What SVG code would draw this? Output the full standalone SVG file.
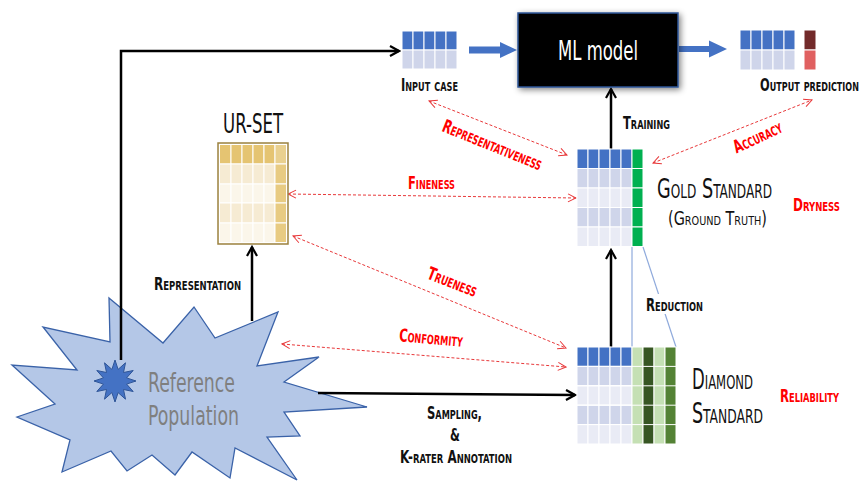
<svg xmlns="http://www.w3.org/2000/svg" width="863" height="481" viewBox="0 0 863 481">
<defs>
<style>
text{font-family:"DejaVu Sans Condensed","DejaVu Sans",sans-serif;}
.sc{font-variant:small-caps;font-weight:bold;font-size:18px;fill:#111;}
.red{fill:#FF0000;}
.cell rect{stroke:#fff;stroke-width:1;}
.bh{fill:#4472C4;}
.b1{fill:#CFD5EA;}
.b2{fill:#E9EBF5;}
.blk{stroke:#000;stroke-width:2.5;fill:none;}
.dash{stroke:#E8383A;stroke-width:1;stroke-dasharray:3,2;fill:none;marker-start:url(#ro);marker-end:url(#ro);}
.red-line{stroke:#8FAADC;stroke-width:1.2;fill:none;}
</style>
<marker id="ba" viewBox="0 0 12 12" refX="10" refY="6" markerWidth="12" markerHeight="12" markerUnits="userSpaceOnUse" orient="auto">
<path d="M1,1 L10,6 L1,11" fill="none" stroke="#000" stroke-width="2.2"/>
</marker>
<marker id="ro" viewBox="0 0 10 10" refX="9" refY="5" markerWidth="10" markerHeight="10" markerUnits="userSpaceOnUse" orient="auto-start-reverse">
<path d="M1,1 L9,5 L1,9" fill="none" stroke="#E8383A" stroke-width="1"/>
</marker>
<filter id="sh" x="-20%" y="-30%" width="140%" height="160%">
<feGaussianBlur in="SourceAlpha" stdDeviation="3"/>
<feOffset dx="2" dy="2" result="b"/>
<feComponentTransfer><feFuncA type="linear" slope="0.5"/></feComponentTransfer>
<feMerge><feMergeNode/><feMergeNode in="SourceGraphic"/></feMerge>
</filter>
</defs>
<rect width="863" height="481" fill="#fff"/>

<g id="population">
<polygon points="109,298 163,343 194,307 215,338 278,312 257,366 319,357 284,382 367,407 284,412 300,436 267,437 297,480 235,448 230,478 192,452 175,475 152,455 127,471 111,451 62,472 70,440 17,417 55,404 12,365 77,370 43,327 110,342" fill="#B4C7E7" stroke="#3A62A8" stroke-width="1.3"/>
<text transform="translate(148,392) scale(0.7,1)" font-size="26" fill="#7F7F7F" textLength="124.3" lengthAdjust="spacingAndGlyphs">Reference</text>
<text transform="translate(148,425) scale(0.7,1)" font-size="26" fill="#7F7F7F" textLength="130" lengthAdjust="spacingAndGlyphs">Population</text>
</g>

<g id="connectors">
<path class="blk" d="M121,360 V51 H399" marker-end="url(#ba)"/>
<path class="blk" d="M252,321 V247" marker-end="url(#ba)"/>
<path class="blk" d="M611,347 V250" marker-end="url(#ba)"/>
<path class="blk" d="M611,149 V89" marker-end="url(#ba)"/>
<path class="blk" d="M318,393 L575,395" marker-end="url(#ba)"/>
<polygon points="469,46.5 500,46.5 500,42 517,50 500,58 500,53.5 469,53.5" fill="#4472C4"/>
<polygon points="679,46 709,46 709,40.5 727,49 709,57.5 709,52 679,52" fill="#4472C4"/>
<path class="red-line" d="M632,247 V347"/>
<path class="red-line" d="M643,247 L676,347"/>
<path class="dash" d="M429,101 L567,155"/>
<path class="dash" d="M653,163 L812,100"/>
<path class="dash" d="M288,194 L576,198"/>
<path class="dash" d="M293,236 L566,348"/>
<path class="dash" d="M282,344 L566,367"/>
</g>

<g id="small-star">
<polygon points="115,360 118.1,369.4 125.5,362.8 123.5,372.5 133.2,370.5 126.6,377.9 136,381 126.6,384.1 133.2,391.5 123.5,389.5 125.5,399.2 118.1,392.6 115,402 111.9,392.6 104.5,399.2 106.5,389.5 96.8,391.5 103.4,384.1 94,381 103.4,377.9 96.8,370.5 106.5,372.5 104.5,362.8 111.9,369.4" fill="#4472C4" stroke="#2F5597" stroke-width="1"/>
</g>

<g id="input-case">
<g class="cell">
<rect class="bh" x="402" y="31" width="11" height="19"/><rect class="bh" x="413" y="31" width="11" height="19"/><rect class="bh" x="424" y="31" width="11" height="19"/><rect class="bh" x="435" y="31" width="11" height="19"/><rect class="bh" x="446" y="31" width="11" height="19"/>
<rect class="b1" x="402" y="50" width="11" height="19"/><rect class="b1" x="413" y="50" width="11" height="19"/><rect class="b1" x="424" y="50" width="11" height="19"/><rect class="b1" x="435" y="50" width="11" height="19"/><rect class="b1" x="446" y="50" width="11" height="19"/>
</g>
<text class="sc" transform="translate(401,91) scale(0.7,1)" textLength="81.4" lengthAdjust="spacingAndGlyphs">Input case</text>
</g>

<g id="ml-model">
<rect x="518" y="13" width="160" height="74" fill="#000" stroke="#2F5597" stroke-width="1.5" filter="url(#sh)"/>
<text transform="translate(598,60) scale(0.7,1)" font-size="27" fill="#fff" text-anchor="middle" textLength="114.3" lengthAdjust="spacingAndGlyphs">ML model</text>
</g>

<g id="output-prediction">
<g class="cell">
<rect class="bh" x="740" y="30" width="11" height="20"/><rect class="bh" x="751" y="30" width="11" height="20"/><rect class="bh" x="762" y="30" width="11" height="20"/><rect class="bh" x="773" y="30" width="11" height="20"/><rect class="bh" x="784" y="30" width="11" height="20"/>
<rect class="b1" x="740" y="50" width="11" height="20"/><rect class="b1" x="751" y="50" width="11" height="20"/><rect class="b1" x="762" y="50" width="11" height="20"/><rect class="b1" x="773" y="50" width="11" height="20"/><rect class="b1" x="784" y="50" width="11" height="20"/>
<rect x="804" y="30" width="12" height="20" fill="#722A2A"/>
<rect x="804" y="50" width="12" height="20" fill="#E06060"/>
</g>
<text class="sc" transform="translate(760,91) scale(0.7,1)" textLength="141.4" lengthAdjust="spacingAndGlyphs">Output prediction</text>
</g>

<g id="ur-set">
<text transform="translate(253,133) scale(0.7,1)" font-size="27" fill="#111" text-anchor="middle" textLength="85.7" lengthAdjust="spacingAndGlyphs">UR-SET</text>
<rect x="218" y="143" width="70" height="101" fill="#FBF6EA" stroke="#9C8240" stroke-width="1.5"/>
<g class="cell">
<rect x="219.5" y="144.5" width="11.5" height="19.5" fill="#E5C472"/><rect x="231" y="144.5" width="11" height="19.5" fill="#E5C472"/><rect x="242" y="144.5" width="11" height="19.5" fill="#E5C472"/><rect x="253" y="144.5" width="11" height="19.5" fill="#E5C472"/><rect x="264" y="144.5" width="11" height="19.5" fill="#E5C472"/><rect x="275" y="144.5" width="11.5" height="19.5" fill="#E9D08F"/>
<rect x="219.5" y="164" width="11.5" height="20" fill="#F6EBD3"/><rect x="231" y="164" width="11" height="20" fill="#F6EBD3"/><rect x="242" y="164" width="11" height="20" fill="#F6EBD3"/><rect x="253" y="164" width="11" height="20" fill="#F6EBD3"/><rect x="264" y="164" width="11" height="20" fill="#F6EBD3"/><rect x="275" y="164" width="11.5" height="20" fill="#E8CB82"/>
<rect x="219.5" y="184" width="11.5" height="19" fill="#FBF6EA"/><rect x="231" y="184" width="11" height="19" fill="#FBF6EA"/><rect x="242" y="184" width="11" height="19" fill="#FBF6EA"/><rect x="253" y="184" width="11" height="19" fill="#FBF6EA"/><rect x="264" y="184" width="11" height="19" fill="#FBF6EA"/><rect x="275" y="184" width="11.5" height="19" fill="#E8CB82"/>
<rect x="219.5" y="203" width="11.5" height="20" fill="#F6EBD3"/><rect x="231" y="203" width="11" height="20" fill="#F6EBD3"/><rect x="242" y="203" width="11" height="20" fill="#F6EBD3"/><rect x="253" y="203" width="11" height="20" fill="#F6EBD3"/><rect x="264" y="203" width="11" height="20" fill="#F6EBD3"/><rect x="275" y="203" width="11.5" height="20" fill="#E8CB82"/>
<rect x="219.5" y="223" width="11.5" height="19.5" fill="#FBF6EA"/><rect x="231" y="223" width="11" height="19.5" fill="#FBF6EA"/><rect x="242" y="223" width="11" height="19.5" fill="#FBF6EA"/><rect x="253" y="223" width="11" height="19.5" fill="#FBF6EA"/><rect x="264" y="223" width="11" height="19.5" fill="#FBF6EA"/><rect x="275" y="223" width="11.5" height="19.5" fill="#E8CB82"/>
</g>
</g>

<g id="gold-standard">
<g class="cell">
<rect class="bh" x="577" y="149" width="11" height="19.5"/><rect class="bh" x="588" y="149" width="11" height="19.5"/><rect class="bh" x="599" y="149" width="11" height="19.5"/><rect class="bh" x="610" y="149" width="11" height="19.5"/><rect class="bh" x="621" y="149" width="11" height="19.5"/>
<rect class="b1" x="577" y="168.5" width="11" height="19.5"/><rect class="b1" x="588" y="168.5" width="11" height="19.5"/><rect class="b1" x="599" y="168.5" width="11" height="19.5"/><rect class="b1" x="610" y="168.5" width="11" height="19.5"/><rect class="b1" x="621" y="168.5" width="11" height="19.5"/>
<rect class="b2" x="577" y="188" width="11" height="19.5"/><rect class="b2" x="588" y="188" width="11" height="19.5"/><rect class="b2" x="599" y="188" width="11" height="19.5"/><rect class="b2" x="610" y="188" width="11" height="19.5"/><rect class="b2" x="621" y="188" width="11" height="19.5"/>
<rect class="b1" x="577" y="207.5" width="11" height="19.5"/><rect class="b1" x="588" y="207.5" width="11" height="19.5"/><rect class="b1" x="599" y="207.5" width="11" height="19.5"/><rect class="b1" x="610" y="207.5" width="11" height="19.5"/><rect class="b1" x="621" y="207.5" width="11" height="19.5"/>
<rect class="b2" x="577" y="227" width="11" height="19.5"/><rect class="b2" x="588" y="227" width="11" height="19.5"/><rect class="b2" x="599" y="227" width="11" height="19.5"/><rect class="b2" x="610" y="227" width="11" height="19.5"/><rect class="b2" x="621" y="227" width="11" height="19.5"/>
<rect x="632" y="149" width="11" height="19.5" fill="#00B050"/><rect x="632" y="168.5" width="11" height="19.5" fill="#00B050"/><rect x="632" y="188" width="11" height="19.5" fill="#00B050"/><rect x="632" y="207.5" width="11" height="19.5" fill="#00B050"/><rect x="632" y="227" width="11" height="19.5" fill="#00B050"/>
</g>
<text transform="translate(657,198) scale(0.7,1)" font-size="27" fill="#111" style="font-variant:small-caps" textLength="164.3" lengthAdjust="spacingAndGlyphs">Gold Standard</text>
<text transform="translate(668,225) scale(0.7,1)" font-size="19" fill="#111" style="font-variant:small-caps" textLength="141.4" lengthAdjust="spacingAndGlyphs">(Ground Truth)</text>
</g>

<g id="diamond-standard">
<g class="cell">
<rect class="bh" x="577" y="347" width="11" height="19.4"/><rect class="bh" x="588" y="347" width="11" height="19.4"/><rect class="bh" x="599" y="347" width="11" height="19.4"/><rect class="bh" x="610" y="347" width="11" height="19.4"/><rect class="bh" x="621" y="347" width="11" height="19.4"/>
<rect class="b1" x="577" y="366.4" width="11" height="19.4"/><rect class="b1" x="588" y="366.4" width="11" height="19.4"/><rect class="b1" x="599" y="366.4" width="11" height="19.4"/><rect class="b1" x="610" y="366.4" width="11" height="19.4"/><rect class="b1" x="621" y="366.4" width="11" height="19.4"/>
<rect class="b2" x="577" y="385.8" width="11" height="19.4"/><rect class="b2" x="588" y="385.8" width="11" height="19.4"/><rect class="b2" x="599" y="385.8" width="11" height="19.4"/><rect class="b2" x="610" y="385.8" width="11" height="19.4"/><rect class="b2" x="621" y="385.8" width="11" height="19.4"/>
<rect class="b1" x="577" y="405.2" width="11" height="19.4"/><rect class="b1" x="588" y="405.2" width="11" height="19.4"/><rect class="b1" x="599" y="405.2" width="11" height="19.4"/><rect class="b1" x="610" y="405.2" width="11" height="19.4"/><rect class="b1" x="621" y="405.2" width="11" height="19.4"/>
<rect class="b2" x="577" y="424.6" width="11" height="19.4"/><rect class="b2" x="588" y="424.6" width="11" height="19.4"/><rect class="b2" x="599" y="424.6" width="11" height="19.4"/><rect class="b2" x="610" y="424.6" width="11" height="19.4"/><rect class="b2" x="621" y="424.6" width="11" height="19.4"/>
<rect x="632" y="347" width="11" height="97" fill="#C5E0B4"/><rect x="643" y="347" width="11" height="97" fill="#375623"/><rect x="654" y="347" width="11" height="97" fill="#C5E0B4"/><rect x="665" y="347" width="11" height="97" fill="#548235"/>
</g>
<path d="M577,366.4 H676 M577,385.8 H676 M577,405.2 H676 M577,424.6 H676" stroke="#fff" stroke-width="1"/>
<text transform="translate(692,389) scale(0.7,1)" font-size="28" fill="#111" style="font-variant:small-caps" textLength="87.1" lengthAdjust="spacingAndGlyphs">Diamond</text>
<text transform="translate(692,423) scale(0.7,1)" font-size="28" fill="#111" style="font-variant:small-caps" textLength="101.4" lengthAdjust="spacingAndGlyphs">Standard</text>
</g>

<g id="labels">
<text class="sc" transform="translate(623,129) scale(0.7,1)" textLength="67.1" lengthAdjust="spacingAndGlyphs">Training</text>
<text class="sc" transform="translate(154,290) scale(0.7,1)" textLength="124.3" lengthAdjust="spacingAndGlyphs">Representation</text>
<rect x="645" y="294" width="59" height="20" fill="#fff"/>
<text class="sc" transform="translate(646,311) scale(0.7,1)" textLength="81.4" lengthAdjust="spacingAndGlyphs">Reduction</text>
<text class="sc" transform="translate(427,419) scale(0.7,1)" textLength="78.6" lengthAdjust="spacingAndGlyphs">Sampling,</text>
<text class="sc" transform="translate(455,441) scale(0.7,1)" text-anchor="middle">&amp;</text>
<text class="sc" transform="translate(400,463) scale(0.7,1)" textLength="160" lengthAdjust="spacingAndGlyphs">K-rater Annotation</text>
<text class="sc red" transform="translate(408,189) scale(0.7,1)" textLength="67.1" lengthAdjust="spacingAndGlyphs">Fineness</text>
<text class="sc red" transform="translate(793,211) scale(0.7,1)" textLength="67.1" lengthAdjust="spacingAndGlyphs">Dryness</text>
<text class="sc red" transform="translate(780,402) scale(0.7,1)" textLength="84.3" lengthAdjust="spacingAndGlyphs">Reliability</text>
<text class="sc red" transform="translate(492,146) rotate(22) scale(0.7,1)" y="5" text-anchor="middle" textLength="151.4" lengthAdjust="spacingAndGlyphs">Representativeness</text>
<text class="sc red" transform="translate(758,138) rotate(-25) scale(0.7,1)" y="5" text-anchor="middle" textLength="74.3" lengthAdjust="spacingAndGlyphs">Accuracy</text>
<text class="sc red" transform="translate(452,283) rotate(21) scale(0.7,1)" y="5" text-anchor="middle" textLength="74.3" lengthAdjust="spacingAndGlyphs">Trueness</text>
<text class="sc red" transform="translate(431,339) rotate(5) scale(0.7,1)" y="5" text-anchor="middle" textLength="91.4" lengthAdjust="spacingAndGlyphs">Conformity</text>
</g>
</svg>
